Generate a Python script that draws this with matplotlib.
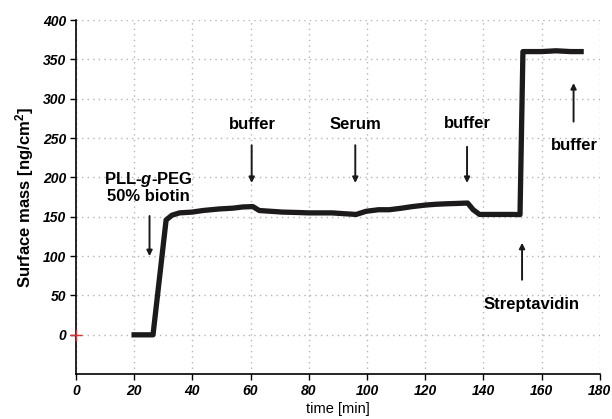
import matplotlib
matplotlib.use("Agg")
import matplotlib.pyplot as plt

plt.rcParams['font.family'] = ['Liberation Sans', 'DejaVu Sans']
plt.rcParams['mathtext.fontset'] = 'custom'
plt.rcParams['mathtext.rm'] = 'Liberation Sans'
plt.rcParams['mathtext.it'] = 'Liberation Sans:italic'
plt.rcParams['mathtext.bf'] = 'Liberation Sans:bold'
plt.rcParams['mathtext.bfit'] = 'Liberation Sans:italic:bold'

# data
time_min = [20, 26.5, 31, 33, 35.6, 40, 43.6, 49.3, 54, 57.3, 60.8, 63, 67, 71, 76, 80,
            84, 88, 92, 96.3, 99.7, 104, 107.7, 112, 115.6, 120.3, 124, 127, 131, 134.6,
            136.5, 138.7, 142, 146, 150, 152.6, 153.6, 156, 160, 165, 170, 173.6]
surface_mass = [0, 0, 146, 152, 155, 156, 158, 160, 161, 162.5, 163, 158, 157, 156, 155.5, 155,
                155, 155, 154, 153, 157, 159, 159, 161, 163, 165, 166, 166.5, 167, 167.5,
                159, 153, 153, 153, 153, 152.8, 360, 360, 360, 361, 360, 360]

x_ticks = [0, 20, 40, 60, 80, 100, 120, 140, 160, 180]
y_ticks = [0, 50, 100, 150, 200, 250, 300, 350, 400]

# annotations: (text, text position, arrow tail, arrow head)
labels = ["PLL-$\\bfit{g}$-PEG\n50% biotin", "buffer", "Serum", "buffer", "buffer", "Streptavidin"]
label_xy = [(25.0, 188), (60.6, 267), (96, 267), (134.4, 269), (171.3, 240), (156.4, 38)]
arrow_from = [(25.3, 151), (60.4, 241), (96, 241), (134.4, 239), (171, 271), (153.3, 70)]
arrow_to = [(25.3, 100), (60.4, 193), (96, 193), (134.4, 193), (171, 320), (153.3, 117)]

fig = plt.figure(figsize=(6.12, 4.19), dpi=100)
ax = fig.add_axes([0.124, 0.107, 0.856, 0.845])

ax.plot(time_min, surface_mass, color='#1c1a1a', lw=3.8, solid_joinstyle='round')
ax.plot([0], [0], marker='+', color='#e03030', ms=9, mew=1.0, clip_on=False, zorder=5)

ax.set_xlim(0, 180)
ax.set_ylim(-50, 400)
ax.set_xticks(x_ticks)
ax.set_yticks(y_ticks)
ax.tick_params(axis='both', direction='out', length=4, width=1, labelsize=10, pad=3)
for lab in ax.get_xticklabels() + ax.get_yticklabels():
    lab.set_fontweight('bold')
    lab.set_fontstyle('italic')

ax.grid(True, color='#b5b5b5', linestyle=(0, (1, 3)), linewidth=1)
ax.set_axisbelow(True)
for s in ['top', 'right']:
    ax.spines[s].set_visible(False)
for s in ['left', 'bottom']:
    ax.spines[s].set_linewidth(1.2)

ax.set_xlabel("time [min]", fontsize=10.5, labelpad=3)
ax.set_ylabel("Surface mass [ng/cm$^\\mathbf{2}$]", fontsize=12, fontweight='bold', labelpad=5)

for txt, (tx, ty), a0, a1 in zip(labels, label_xy, arrow_from, arrow_to):
    ax.text(tx, ty, txt, ha='center', va='center', fontsize=12, fontweight='bold',
            linespacing=1.0)
    ax.annotate('', xy=a1, xytext=a0,
                arrowprops=dict(arrowstyle='-|>', color='#1a1a1a', lw=1.4,
                                mutation_scale=8, shrinkA=0, shrinkB=0))

fig.savefig("out.png", dpi=100)
